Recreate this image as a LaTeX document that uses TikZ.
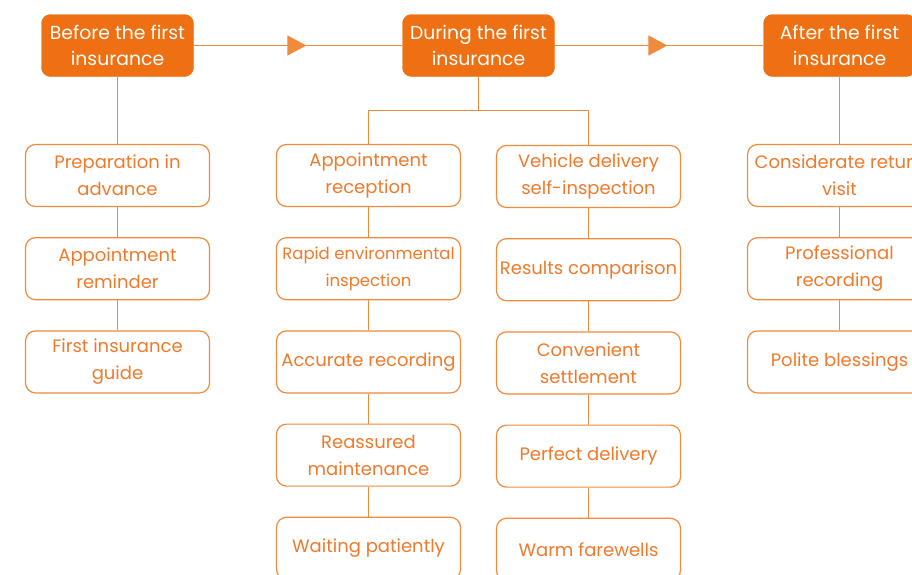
\documentclass[tikz,border=0pt]{standalone}
\usepackage{fontspec}
\setmainfont{Poppins}
\usepackage{xcolor}
\usetikzlibrary{positioning,arrows.meta,decorations.markings}
\definecolor{deeporange}{HTML}{EE7012}
\definecolor{lineorange}{HTML}{F08A3C}
\definecolor{textorange}{HTML}{EF7A2B}
\tikzstyle{head} = [draw=deeporange, fill=deeporange, rounded corners=9pt, minimum height=62pt, minimum width=152pt, text=white, align=center, inner sep=1pt, font=\fontsize{18.8}{26.5}\selectfont]
\tikzstyle{item} = [draw=lineorange, line width=1.2pt, fill=white, rounded corners=10pt, minimum height=62pt, minimum width=184pt, text=textorange, align=center, inner sep=1pt, font=\fontsize{18}{27}\selectfont]
\tikzstyle{link} = [draw=lineorange, line width=1.2pt]

\begin{document}
\begin{tikzpicture}[x=1pt, y=-1pt, node distance=30pt]
		\useasboundingbox (0,0) rectangle (912,574);
		\clip (0,0) rectangle (912,574);
		
		\node [head] (before) at (117.5,45.5) {Before the first\\insurance};
		\node [head] (during) at (478.5,45.5) {During the first\\insurance};
		\node [head] (after) at (839.5,45.5) {After the first\\insurance};
		
		% before
		\node [item] (prep) at (117.5,175.5) {Preparation in\\advance};
		\node [item, below=of prep] (remind) {Appointment\\reminder};
		\node [item, below=of remind] (guide) {First insurance\\guide};
		
		% during, left branch
		\node [item] (recep) at (368.5,175.5) {Appointment\\reception};
		\node [item, below=of recep, font=\fontsize{16.5}{27}\selectfont] (rapid) {Rapid environmental\\inspection};
		\node [item, below=of rapid] (record) {Accurate recording};
		\node [item, below=of record] (maint) {Reassured\\maintenance};
		\node [item, below=of maint] (wait) {Waiting patiently};
		
		% during, right branch
		\node [item] (self) at (588.5,176.5) {Vehicle delivery\\self-inspection};
		\node [item, below=of self] (compare) {Results comparison};
		\node [item, below=of compare] (settle) {Convenient\\settlement};
		\node [item, below=of settle] (deliver) {Perfect delivery};
		\node [item, below=of deliver] (farewell) {Warm farewells};
		
		% after
		\node [item] (revisit) at (839.5,175.5) {Considerate return\\visit};
		\node [item, below=of revisit] (profrec) {Professional\\recording};
		\node [item, below=of profrec] (bless) {Polite blessings};
		
		\draw [link, postaction={decorate}, decoration={markings, mark=at position 0.54 with {\arrow{Triangle[length=19pt,width=20pt]}}}] (before.east) -- (during.west);
		\draw [link, postaction={decorate}, decoration={markings, mark=at position 0.54 with {\arrow{Triangle[length=19pt,width=20pt]}}}] (during.east) -- (after.west);
		
		\draw [link] (before.south) -- (prep.north);
		\draw [link] (prep.south) -- (remind.north);
		\draw [link] (remind.south) -- (guide.north);
		
		\coordinate [below=34pt of during.south] (split);
		\draw [link] (during.south) -- (split) -| (recep.north);
		\draw [link] (split) -| (self.north);
		\draw [link] (recep.south) -- (rapid.north);
		\draw [link] (rapid.south) -- (record.north);
		\draw [link] (record.south) -- (maint.north);
		\draw [link] (maint.south) -- (wait.north);
		\draw [link] (self.south) -- (compare.north);
		\draw [link] (compare.south) -- (settle.north);
		\draw [link] (settle.south) -- (deliver.north);
		\draw [link] (deliver.south) -- (farewell.north);
		
		\draw [link] (after.south) -- (revisit.north);
		\draw [link] (revisit.south) -- (profrec.north);
		\draw [link] (profrec.south) -- (bless.north);
	\end{tikzpicture}
\end{document}
